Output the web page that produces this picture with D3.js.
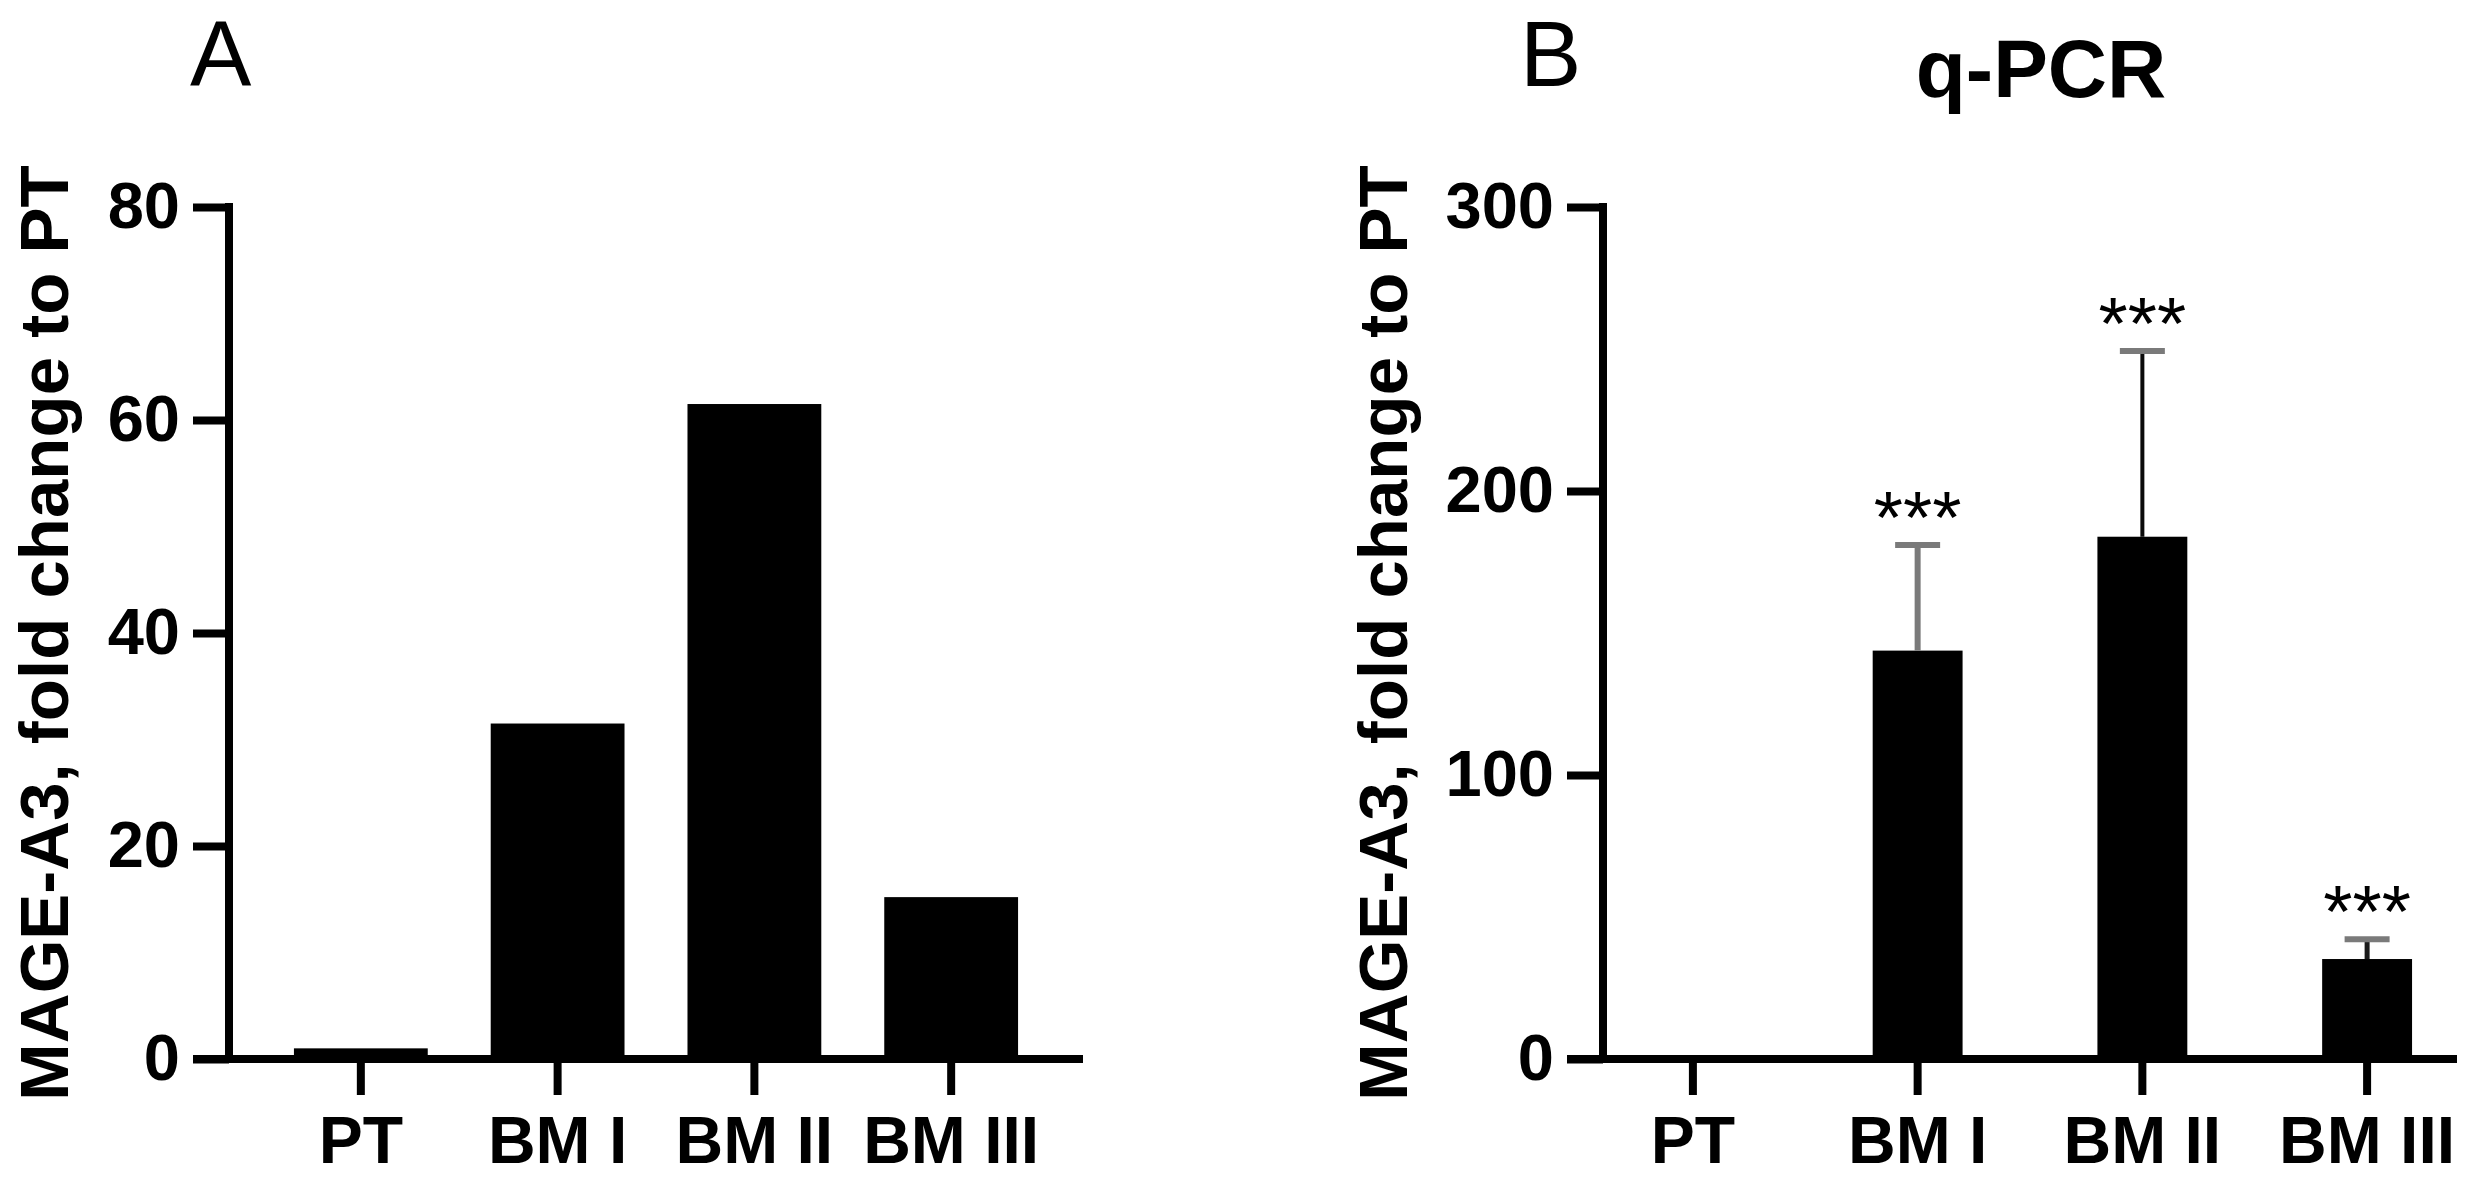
<!DOCTYPE html>
<html>
<head>
<meta charset="utf-8">
<script src="https://cdn.jsdelivr.net/npm/d3@7"></script>
<style>
  html, body { margin: 0; padding: 0; background: #fff; }
  svg { display: block; }
  text { font-family: "Liberation Sans", Arial, Helvetica, sans-serif; fill: #000; }
</style>
</head>
<body>
<svg id="chart" width="2473" height="1181"></svg>
<script>
// ---- data ----
const categories = ["PT", "BM I", "BM II", "BM III"];
const valuesA = [1, 31.5, 61.5, 15.2];
const ticksA = [0, 20, 40, 60, 80];
const valuesB = [1, 143.8, 183.9, 35.2];
const errorsB = [0, 37.2, 65.4, 7.0];
const starsB = ["", "***", "***", "***"];
const ticksB = [0, 100, 200, 300];
const yTitle = "MAGE-A3, fold change to PT";
const panelLabels = ["A", "B"];
const titleB = "q-PCR";

// ---- layout / style ----
const y0 = 1059, yTop = 207;
const tickLen = 36, axisW = 8;
const svg = d3.select("#chart");

function panel(opts) {
  const g = svg.append("g");
  const x = d3.scaleBand().domain(categories)
    .range([opts.x0, opts.x1])
    .paddingInner(opts.pi).paddingOuter(opts.po);
  const y = d3.scaleLinear().domain([0, opts.ymax]).range([y0, yTop]);

  // bars
  g.selectAll("rect.bar").data(opts.values).enter().append("rect")
    .attr("class", "bar")
    .attr("x", (d, i) => x(categories[i]))
    .attr("width", x.bandwidth())
    .attr("y", d => y(d))
    .attr("height", d => y(0) - y(d))
    .attr("fill", "#000");

  // error bars
  if (opts.errors) {
    const lineCol = ["#000", "#7a7a7a", "#0a0a0a", "#1a1a1a"];
    const lineW = [4, 6, 4, 5];
    const capW = 45;
    opts.errors.forEach((e, i) => {
      if (!e) return;
      const cx = x(categories[i]) + x.bandwidth() / 2;
      g.append("line")
        .attr("x1", cx).attr("x2", cx)
        .attr("y1", y(opts.values[i])).attr("y2", y(opts.values[i] + e))
        .attr("stroke", lineCol[i]).attr("stroke-width", lineW[i]);
      g.append("line")
        .attr("x1", cx - capW / 2).attr("x2", cx + capW / 2)
        .attr("y1", y(opts.values[i] + e)).attr("y2", y(opts.values[i] + e))
        .attr("stroke", "#7a7a7a").attr("stroke-width", 6);
      if (opts.stars && opts.stars[i]) {
        g.append("text")
          .attr("x", cx)
          .attr("y", y(opts.values[i] + e) - 2)
          .attr("text-anchor", "middle")
          .style("font-size", "75px")
          .text(opts.stars[i]);
      }
    });
  }

  // y axis
  const yAxis = d3.axisLeft(y).tickValues(opts.ticks)
    .tickSize(tickLen).tickSizeOuter(0).tickPadding(13)
    .tickFormat(d3.format("d"));
  const ya = g.append("g").attr("transform", `translate(${opts.x0},0)`).call(yAxis);
  ya.select(".domain").remove();
  ya.selectAll(".tick line").attr("stroke", "#000").attr("stroke-width", axisW);
  ya.selectAll(".tick text")
    .style("font-size", "65px").style("font-weight", "bold")
    .attr("fill", "#000");
  ya.append("line")
    .attr("x1", 0).attr("x2", 0)
    .attr("y1", y(opts.ymax) - axisW / 2).attr("y2", y(0))
    .attr("stroke", "#000").attr("stroke-width", axisW);

  // x axis
  const xAxis = d3.axisBottom(x).tickSize(tickLen).tickSizeOuter(0).tickPadding(21);
  const xa = g.append("g").attr("transform", `translate(0,${y0})`).call(xAxis);
  xa.select(".domain").remove();
  xa.selectAll(".tick line").attr("stroke", "#000").attr("stroke-width", axisW);
  xa.selectAll(".tick text")
    .style("font-size", "66px").style("font-weight", "bold")
    .attr("fill", "#000");
  xa.append("line")
    .attr("x1", opts.x0 - tickLen).attr("x2", opts.x1)
    .attr("y1", 0).attr("y2", 0)
    .attr("stroke", "#000").attr("stroke-width", axisW);

  // y title
  g.append("text")
    .attr("transform", `translate(${opts.titleX},633) rotate(-90)`)
    .attr("text-anchor", "middle")
    .style("font-size", "69px").style("font-weight", "bold")
    .text(yTitle);

  // panel letter
  g.append("text")
    .attr("x", opts.letterX).attr("y", 86)
    .style("font-size", "92px")
    .text(opts.letter);

  if (opts.title) {
    g.append("text")
      .attr("x", 2041).attr("y", 97)
      .attr("text-anchor", "middle")
      .style("font-size", "82px").style("font-weight", "bold")
      .text(opts.title);
  }
}

panel({ x0: 229, x1: 1083, pi: 0.32, po: 0.33, ymax: 80, ticks: ticksA,
        values: valuesA, titleX: 68, letter: panelLabels[0], letterX: 190 });
panel({ x0: 1603, x1: 2457, pi: 0.6, po: 0.2, ymax: 300, ticks: ticksB,
        values: valuesB, errors: errorsB, stars: starsB, titleX: 1407,
        letter: panelLabels[1], letterX: 1520, title: titleB });
</script>
</body>
</html>
